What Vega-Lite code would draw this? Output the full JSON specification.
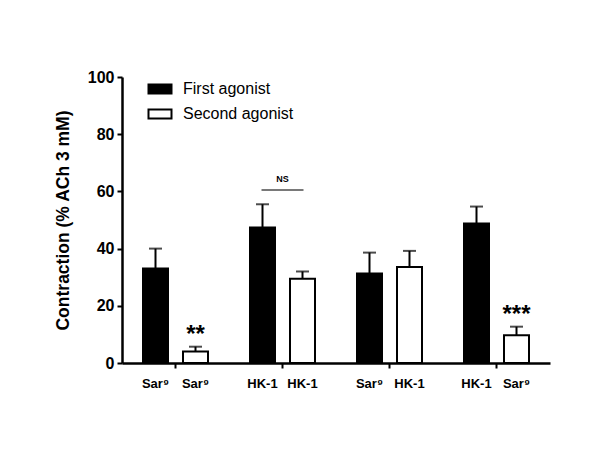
{
  "$schema": "https://vega.github.io/schema/vega-lite/v6.json",
  "width": 428,
  "height": 286,
  "autosize": {"type": "none"},
  "padding": {"left": 122, "top": 77, "right": 50, "bottom": 101},
  "background": "white",
  "config": {
    "view": {"stroke": null},
    "font": "Liberation Sans",
    "axis": {"domainColor": "black", "tickColor": "black", "labelColor": "black", "titleColor": "black", "grid": false}
  },
  "data": {
    "values": [
      {"group": "1", "agonist": "First agonist", "label": "Sar⁹", "mean": 33.0, "upper": 40.0, "sig": ""},
      {"group": "1", "agonist": "Second agonist", "label": "Sar⁹", "mean": 4.0, "upper": 5.7, "sig": "**"},
      {"group": "2", "agonist": "First agonist", "label": "HK-1", "mean": 47.4, "upper": 55.5, "sig": ""},
      {"group": "2", "agonist": "Second agonist", "label": "HK-1", "mean": 29.5, "upper": 32.0, "sig": ""},
      {"group": "3", "agonist": "First agonist", "label": "Sar⁹", "mean": 31.3, "upper": 38.6, "sig": ""},
      {"group": "3", "agonist": "Second agonist", "label": "HK-1", "mean": 33.6, "upper": 39.2, "sig": ""},
      {"group": "4", "agonist": "First agonist", "label": "HK-1", "mean": 48.8, "upper": 54.7, "sig": ""},
      {"group": "4", "agonist": "Second agonist", "label": "Sar⁹", "mean": 9.7, "upper": 12.7, "sig": "***"}
    ]
  },
  "encoding": {
    "x": {
      "field": "group",
      "type": "nominal",
      "scale": {"paddingInner": 0, "paddingOuter": 0},
      "axis": {"labels": false, "title": null, "ticks": true, "tickSize": 5, "tickWidth": 2, "domainWidth": 2.5}
    },
    "xOffset": {
      "field": "agonist",
      "type": "nominal",
      "scale": {"paddingInner": 0.375, "paddingOuter": 0.525}
    }
  },
  "layer": [
    {
      "mark": {"type": "rule", "strokeWidth": 2, "color": "black"},
      "encoding": {
        "y": {"field": "upper", "type": "quantitative"},
        "y2": {"field": "mean"}
      }
    },
    {
      "mark": {"type": "tick", "size": 13, "thickness": 2, "color": "black"},
      "encoding": {
        "y": {"field": "upper", "type": "quantitative"}
      }
    },
    {
      "mark": {"type": "bar", "stroke": "black", "strokeWidth": 2, "opacity": 1},
      "encoding": {
        "y": {
          "field": "mean",
          "type": "quantitative",
          "scale": {"domain": [0, 100], "nice": false},
          "axis": {
            "title": "Contraction (% ACh 3 mM)",
            "titleFontSize": 17.5,
            "titleFontWeight": "bold",
            "titlePadding": 15,
            "values": [0, 20, 40, 60, 80, 100],
            "labelFontSize": 16,
            "labelFontWeight": "bold",
            "labelPadding": 3,
            "tickSize": 5,
            "tickWidth": 2,
            "domainWidth": 2.5
          }
        },
        "fill": {
          "field": "agonist",
          "type": "nominal",
          "scale": {"domain": ["First agonist", "Second agonist"], "range": ["black", "white"]},
          "legend": {
            "title": null,
            "orient": "none",
            "legendX": 30,
            "legendY": 4,
            "padding": 0,
            "symbolType": "M-2.556,-1H2.556V1H-2.556Z",
            "symbolSize": 81,
            "symbolStrokeColor": "black",
            "symbolStrokeWidth": 2,
            "symbolOpacity": 1,
            "labelFontSize": 16,
            "labelColor": "black",
            "labelOffset": 15,
            "rowPadding": 7
          }
        }
      }
    },
    {
      "mark": {"type": "text", "fontSize": 13, "fontWeight": "bold", "baseline": "middle", "dy": 21, "color": "black"},
      "encoding": {
        "y": {"datum": 0},
        "text": {"field": "label"}
      }
    },
    {
      "mark": {"type": "text", "fontSize": 24, "fontWeight": "bold", "baseline": "middle", "dy": -12, "color": "black"},
      "encoding": {
        "y": {"field": "upper", "type": "quantitative"},
        "text": {"field": "sig"}
      }
    },
    {
      "data": {"values": [{"group": "2", "level": 60.5, "note": "NS"}]},
      "mark": {"type": "tick", "size": 42, "thickness": 1.5, "color": "black"},
      "encoding": {
        "xOffset": null,
        "y": {"field": "level", "type": "quantitative"}
      }
    },
    {
      "data": {"values": [{"group": "2", "level": 60.5, "note": "NS"}]},
      "mark": {"type": "text", "fontSize": 9, "fontWeight": "bold", "baseline": "middle", "dy": -11, "color": "black"},
      "encoding": {
        "xOffset": null,
        "y": {"field": "level", "type": "quantitative"},
        "text": {"field": "note"}
      }
    }
  ]
}
